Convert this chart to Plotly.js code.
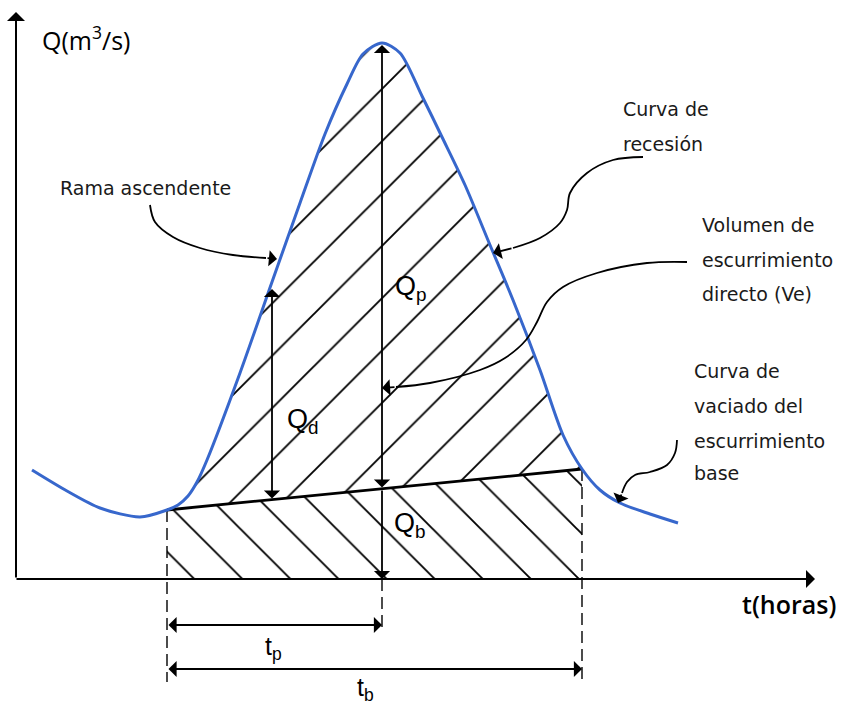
<!DOCTYPE html>
<html><head><meta charset="utf-8">
<script src="https://cdn.plot.ly/plotly-3.0.1.min.js"></script>
<style>html,body{margin:0;padding:0;background:#fff}#chart{width:843px;height:702px}</style>
</head><body><div id="chart"></div>
<script>
// ---- Hydrograph data (diagram units: t to the right, Q upward) ----
const hydroT = [16,51,84,124,151,162,172,181,191,224,256,284,309,331,347,366,384,406,426,449,474,497,524,547,566,584,604,634,662];
const hydroQ = [109,88,71,62,69,74,83,97,119,206,297,376,445,495,525,536,526,483,442,394,334,279,209,144,110,89,76,65,56];

// Base-flow separation line (start of rise -> end of direct runoff)
const baseT = [151, 566];
const baseQ = [69, 110];

// Characteristic times and discharges
const tStart = 151, tPeak = 366, tEnd = 566;
const qPeak = 534, qPeakBase = 90;
const tQd = 256, qQdTop = 290, qQdBase = 79;
const qDimLow = -103;       // bottom of the dashed reference lines
const qTp = -46, qTb = -90; // levels of the tp / tb dimension arrows

// Callout curves
const callRamaT = [134,139,157,184,217,250];
const callRamaQ = [374,357,342,331,324,321];
const tipRama = [261,320];

const callRecT = [627,597,571,554,551,544,524,497];
const callRecQ = [422,419,406,386,369,356,341,331];
const tipRec = [477,326];

const callVolT = [671,631,581,547,531,521,510,489,464,414,380];
const callVolQ = [317,316,306,292,277,257,239,221,209,196,192];
const tipVol = [366,191];

const callBaseT = [661,659,651,634,619,611,606];
const callBaseQ = [139,126,114,107,104,97,86];
const tipBase = [602,76];

// Text labels
const calloutLines = [
  {text:'Rama ascendente', t:42, q:391},
  {text:'Curva de', t:605, q:470},
  {text:'recesión', t:605, q:435},
  {text:'Volumen de', t:684, q:354},
  {text:'escurrimiento', t:684, q:319},
  {text:'directo (Ve)', t:684, q:285},
  {text:'Curva de', t:676, q:208},
  {text:'vaciado del', t:676, q:173},
  {text:'escurrimiento', t:676, q:138},
  {text:'base', t:676, q:106}
];
const qLabels = [
  {text:'Q<sub>p</sub>', t:377, q:291},
  {text:'Q<sub>d</sub>', t:269, q:158},
  {text:'Q<sub>b</sub>', t:376, q:54}
];
const tLabels = [
  {text:'t<sub>p</sub>', t:247, q:-69},
  {text:'t<sub>b</sub>', t:339, q:-110}
];

// ---- Build traces ----
const directT = [], directQ = [];
hydroT.forEach((t,i)=>{ if (t>=tStart && t<=tEnd){ directT.push(t); directQ.push(hydroQ[i]); } });
directT.push(baseT[1], baseT[0]); directQ.push(baseQ[1], baseQ[0]);

const baseAreaT = [baseT[0], baseT[1], baseT[1], baseT[0]];
const baseAreaQ = [baseQ[0], baseQ[1], 0, 0];

const blue = '#3767cc';
const traces = [
  {x:directT, y:directQ, mode:'lines', fill:'toself', line:{width:0,color:'rgba(0,0,0,0)'},
   fillcolor:'rgba(0,0,0,0)',
   fillpattern:{shape:'/', size:37, solidity:0.05, fgcolor:'black', bgcolor:'rgba(0,0,0,0)', fillmode:'replace'}},
  {x:baseAreaT, y:baseAreaQ, mode:'lines', fill:'toself', line:{width:0,color:'rgba(0,0,0,0)'},
   fillcolor:'rgba(0,0,0,0)',
   fillpattern:{shape:'\\', size:34, solidity:0.054, fgcolor:'black', bgcolor:'rgba(0,0,0,0)', fillmode:'replace'}},
  // dashed reference lines
  {x:[tStart,tStart], y:[baseQ[0], qDimLow], mode:'lines', line:{color:'black', width:1.4, dash:'12px,6px'}},
  {x:[tEnd,tEnd], y:[baseQ[1], qDimLow], mode:'lines', line:{color:'black', width:1.4, dash:'12px,6px'}},
  {x:[tPeak,tPeak], y:[0, qTp-7], mode:'lines', line:{color:'black', width:1.4, dash:'12px,6px'}},
  // base flow separation line
  {x:baseT, y:baseQ, mode:'lines', line:{color:'black', width:2.8}},
  // hydrograph
  {x:hydroT, y:hydroQ, mode:'lines', line:{color:blue, width:3, shape:'spline', smoothing:0.8}},
  // callouts
  {x:callRamaT, y:callRamaQ, mode:'lines', line:{color:'black', width:1.8, shape:'spline'}},
  {x:callRecT, y:callRecQ, mode:'lines', line:{color:'black', width:1.8, shape:'spline'}},
  {x:callVolT, y:callVolQ, mode:'lines', line:{color:'black', width:1.8, shape:'spline'}},
  {x:callBaseT, y:callBaseQ, mode:'lines', line:{color:'black', width:1.8, shape:'spline'}}
];
traces.forEach(tr=>{ tr.hoverinfo='skip'; tr.showlegend=false; });

function arrow(x0,y0,x1,y1,both,w){
  return {x:x1, y:y1, ax:x0, ay:y0, xref:'x', yref:'y', axref:'x', ayref:'y',
    showarrow:true, arrowhead:1, startarrowhead:1, arrowsize:1.5, startarrowsize:1.5,
    arrowwidth:w||1.6, arrowcolor:'black', arrowside: both?'end+start':'end',
    standoff:0, startstandoff:0, text:''};
}
const ann = [];
// axes
ann.push(arrow(-1,0,799,0,false,2));
ann.push(arrow(0,0,0,567,false,2));
// Qp, Qb, Qd
ann.push(arrow(tPeak,qPeakBase,tPeak,qPeak,true,1.8));
ann.push(arrow(tPeak,qPeakBase,tPeak,0,false,1.8));
ann.push(arrow(tQd,qQdBase,tQd,qQdTop,true,1.8));
// tp, tb
ann.push(arrow(tStart,qTp,tPeak,qTp,true,1.8));
ann.push(arrow(tStart,qTb,tEnd,qTb,true,1.8));
// callout heads
ann.push(arrow(callRamaT[callRamaT.length-1],callRamaQ[callRamaQ.length-1],tipRama[0],tipRama[1],false,1.8));
ann.push(arrow(callRecT[callRecT.length-1],callRecQ[callRecQ.length-1],tipRec[0],tipRec[1],false,1.8));
ann.push(arrow(callVolT[callVolT.length-1],callVolQ[callVolQ.length-1],tipVol[0],tipVol[1],false,1.8));
ann.push(arrow(callBaseT[callBaseT.length-1],callBaseQ[callBaseQ.length-1],tipBase[0],tipBase[1],false,1.8));

function label(o, font){
  return {x:o.t, y:o.q, xref:'x', yref:'y', xanchor:'left', yanchor:'middle', showarrow:false,
    text:o.text, font:font};
}
calloutLines.forEach(o=>ann.push(label(o,{family:'DejaVu Sans', size:19, color:'#1a1a1a'})));
qLabels.forEach(o=>ann.push(label(o,{family:'Liberation Sans', size:27, color:'black'})));
tLabels.forEach(o=>ann.push(label(o,{family:'Liberation Sans', size:25, color:'black'})));
ann.push(label({text:'Q(m<sup>3</sup>/s)', t:24, q:541},{family:'Open Sans', size:25, color:'black'}));
ann.push(label({text:'t(horas)', t:724, q:-25},{family:'Open Sans', size:25, color:'black', weight:600}));

const layout = {
  width:843, height:702, margin:{l:0,r:0,t:0,b:0,pad:0},
  paper_bgcolor:'white', plot_bgcolor:'white',
  xaxis:{range:[-16,827], visible:false, fixedrange:true},
  yaxis:{range:[-123,579], visible:false, fixedrange:true},
  showlegend:false, hovermode:false,
  annotations:ann
};
Plotly.newPlot('chart', traces, layout, {displayModeBar:false, staticPlot:true});
</script></body></html>
